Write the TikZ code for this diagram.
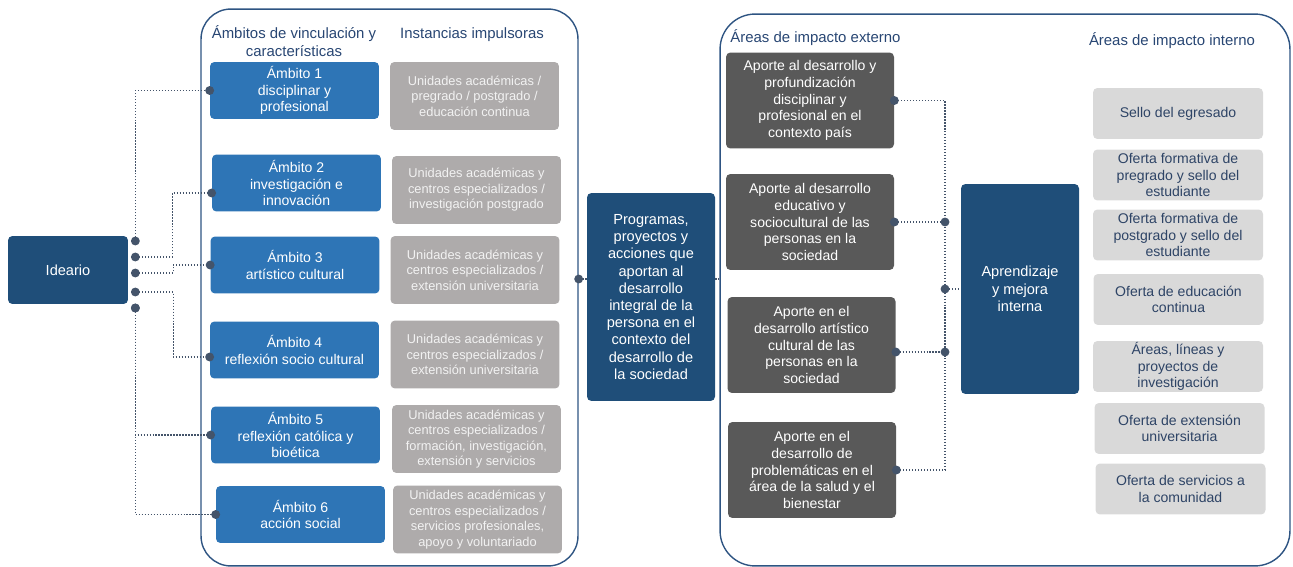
\documentclass[tikz,border=0pt]{standalone}
\usepackage{fontspec}
\setmainfont{Liberation Sans}
\usetikzlibrary{
    arrows.meta,
    positioning,
    calc
}
\definecolor{deepBlue}{RGB}{31, 78, 121}
\definecolor{midBlue}{RGB}{46, 117, 182}
\definecolor{stoneGray}{RGB}{174, 171, 171}
\definecolor{coalGray}{RGB}{89, 89, 89}
\definecolor{paleGray}{RGB}{217, 217, 217}
\definecolor{frameBlue}{RGB}{46, 84, 130}
\definecolor{headBlue}{RGB}{40, 70, 115}
\definecolor{inkBlue}{RGB}{46, 68, 102}
\definecolor{linkGray}{RGB}{68, 84, 106}
\tikzset{
    basic/.style={
        rectangle,
        rounded corners=2.5pt,
        align=center,
        inner xsep=2pt,
        inner ysep=0pt,
        draw=none,
        text=white,
        font=\fontsize{8}{9.6}\selectfont
    },
    core/.style={
        basic,
        fill=deepBlue,
        font=\fontsize{8.3}{9.8}\selectfont
    },
    ambito/.style={
        basic,
        fill=midBlue,
        minimum width=3.38cm,
        minimum height=1.14cm
    },
    instancia/.style={
        basic,
        fill=stoneGray,
        text=white!95!black,
        minimum width=3.38cm,
        minimum height=1.36cm,
        font=\fontsize{7.3}{8.8}\selectfont
    },
    aporte/.style={
        basic,
        fill=coalGray,
        minimum width=3.36cm,
        minimum height=1.92cm,
        font=\fontsize{8}{9.5}\selectfont
    },
    interno/.style={
        basic,
        fill=paleGray,
        text=inkBlue,
        minimum width=3.4cm,
        minimum height=1.02cm,
        font=\fontsize{8}{9.4}\selectfont
    },
    frame/.style={
        rectangle,
        draw=frameBlue,
        line width=0.8pt,
        fill=none
    },
    head/.style={
        text=headBlue,
        inner sep=0pt,
        align=center,
        font=\fontsize{8.5}{10}\selectfont
    },
    link/.style={
        densely dotted,
        draw=linkGray,
        line width=0.7pt
    },
    dots/.style={
        link,
        {Circle[length=5pt]}-{Circle[length=5pt]},
        shorten <=-2.5pt,
        shorten >=-2.5pt
    },
    dotL/.style={
        link,
        {Circle[length=5pt]}-,
        shorten <=-2.5pt
    }
}

\begin{document}
\begin{tikzpicture}[x=0.02cm, y=-0.02cm]
    \useasboundingbox (0,0) rectangle (1293,567);

    % Frames
    \node[frame, rounded corners=17pt, minimum width=7.54cm, minimum height=11.14cm] (leftFrame) at (389.5, 287.5) {};
    \node[frame, rounded corners=20pt, minimum width=11.4cm, minimum height=11.04cm] (rightFrame) at (1005, 290) {};

    \node[head] (ambHead) at (294, 41) {Ámbitos de vinculación y\\características};
    \node[head] (instHead) at (472, 35) {Instancias impulsoras};
    \node[head, anchor=west] (extHead) at (730, 38) {Áreas de impacto externo};
    \node[head] (intHead) at (1172, 41) {Áreas de impacto interno};

    % Ideario
    \node[core, minimum width=2.4cm, minimum height=1.36cm] (ideario) at (68, 270) {Ideario};

    % Ambitos
    \node[ambito] (amb1) at (294.5, 90.5) {Ámbito 1\\disciplinar y\\profesional};
    \node[ambito] (amb2) at (296.5, 183) {Ámbito 2\\investigación e\\innovación};
    \node[ambito] (amb3) at (295, 265) {Ámbito 3\\artístico cultural};
    \node[ambito] (amb4) at (294.5, 350) {Ámbito 4\\reflexión socio cultural};
    \node[ambito] (amb5) at (295.5, 435) {Ámbito 5\\reflexión católica y\\bioética};
    \node[ambito] (amb6) at (300.5, 514.5) {Ámbito 6\\acción social};

    % Instancias
    \node[instancia] (inst1) at (474.5, 96) {Unidades académicas /\\pregrado / postgrado /\\educación continua};
    \node[instancia] (inst2) at (476.5, 190) {Unidades académicas y\\centros especializados /\\investigación postgrado};
    \node[instancia] (inst3) at (475, 270) {Unidades académicas y\\centros especializados /\\extensión universitaria};
    \node[instancia] (inst4) at (475, 354.5) {Unidades académicas y\\centros especializados /\\extensión universitaria};
    \node[instancia] (inst5) at (476.5, 439) {Unidades académicas y\\centros especializados /\\formación, investigación,\\extensión y servicios};
    \node[instancia] (inst6) at (477.5, 519.5) {Unidades académicas y\\centros especializados /\\servicios profesionales,\\apoyo y voluntariado};

    % Programas
    \node[core, minimum width=2.56cm, minimum height=4.16cm] (prog) at (651, 297) {Programas,\\proyectos y\\acciones que\\aportan al\\desarrollo\\integral de la\\persona en el\\contexto del\\desarrollo de\\la sociedad};

    % Impacto externo
    \node[aporte] (ext1) at (810, 100.5) {Aporte al desarrollo y\\profundización\\disciplinar y\\profesional en el\\contexto país};
    \node[aporte] (ext2) at (810, 222) {Aporte al desarrollo\\educativo y\\sociocultural de las\\personas en la\\sociedad};
    \node[aporte] (ext3) at (811.5, 345) {Aporte en el\\desarrollo artístico\\cultural de las\\personas en la\\sociedad};
    \node[aporte] (ext4) at (812, 470) {Aporte en el\\desarrollo de\\problemáticas en el\\área de la salud y el\\bienestar};

    \node[core, minimum width=2.36cm, minimum height=4.2cm] (learn) at (1020, 289) {Aprendizaje\\y mejora\\interna};

    % Impacto interno
    \node[interno] (int1) at (1178, 113.5) {Sello del egresado};
    \node[interno] (int2) at (1178, 175) {Oferta formativa de\\pregrado y sello del\\estudiante};
    \node[interno] (int3) at (1178, 235) {Oferta formativa de\\postgrado y sello del\\estudiante};
    \node[interno] (int4) at (1178.5, 299.5) {Oferta de educación\\continua};
    \node[interno] (int5) at (1178, 366.5) {Áreas, líneas y\\proyectos de\\investigación};
    \node[interno] (int6) at (1179.5, 428.5) {Oferta de extensión\\universitaria};
    \node[interno] (int7) at (1180.5, 489) {Oferta de servicios a\\la comunidad};

    % Connections left
    \coordinate (i1) at ($(ideario.east)+(7,-29)$);
    \coordinate (i2) at ($(ideario.east)+(7,-13)$);
    \coordinate (i3) at ($(ideario.east)+(7,3)$);
    \coordinate (i4) at ($(ideario.east)+(7,22)$);
    \coordinate (i5) at ($(ideario.east)+(7,38)$);
    \draw[dots] (i1) |- (amb1.west);
    \draw[dots] (i2) -- ++(37,0) |- ($(amb2.west)+(0,10)$);
    \draw[dots] (i3) -- ++(38,0) |- (amb3.west);
    \draw[dots] (i4) -- ++(38,0) |- ($(amb4.west)+(0,7)$);
    \draw[dots] (i5) |- (amb5.west);
    \draw[dots] (i5) |- (amb6.west);

    % Connections center
    \coordinate (progIn) at ($(prog.west)+(0,-18)$);
    \draw[dotL] (leftFrame.east |- progIn) -- (progIn);
    \draw[link] ($(prog.east)+(0,-18)$) -- (rightFrame.west |- progIn);

    % Connections right
    \coordinate (spine) at (945, 0);
    \draw[dotL] (ext1.east) -| (spine |- ext4.east);
    \draw[dotL] (ext4.east) -- (spine |- ext4.east);
    \draw[dots] (ext2.east) -- (spine |- ext2.east);
    \draw[dots] ($(ext3.east)+(0,7)$) -- ($(spine |- ext3.east)+(0,7)$);
    \draw[dotL] (spine |- learn.west) -- (learn.west);
\end{tikzpicture}
\end{document}
